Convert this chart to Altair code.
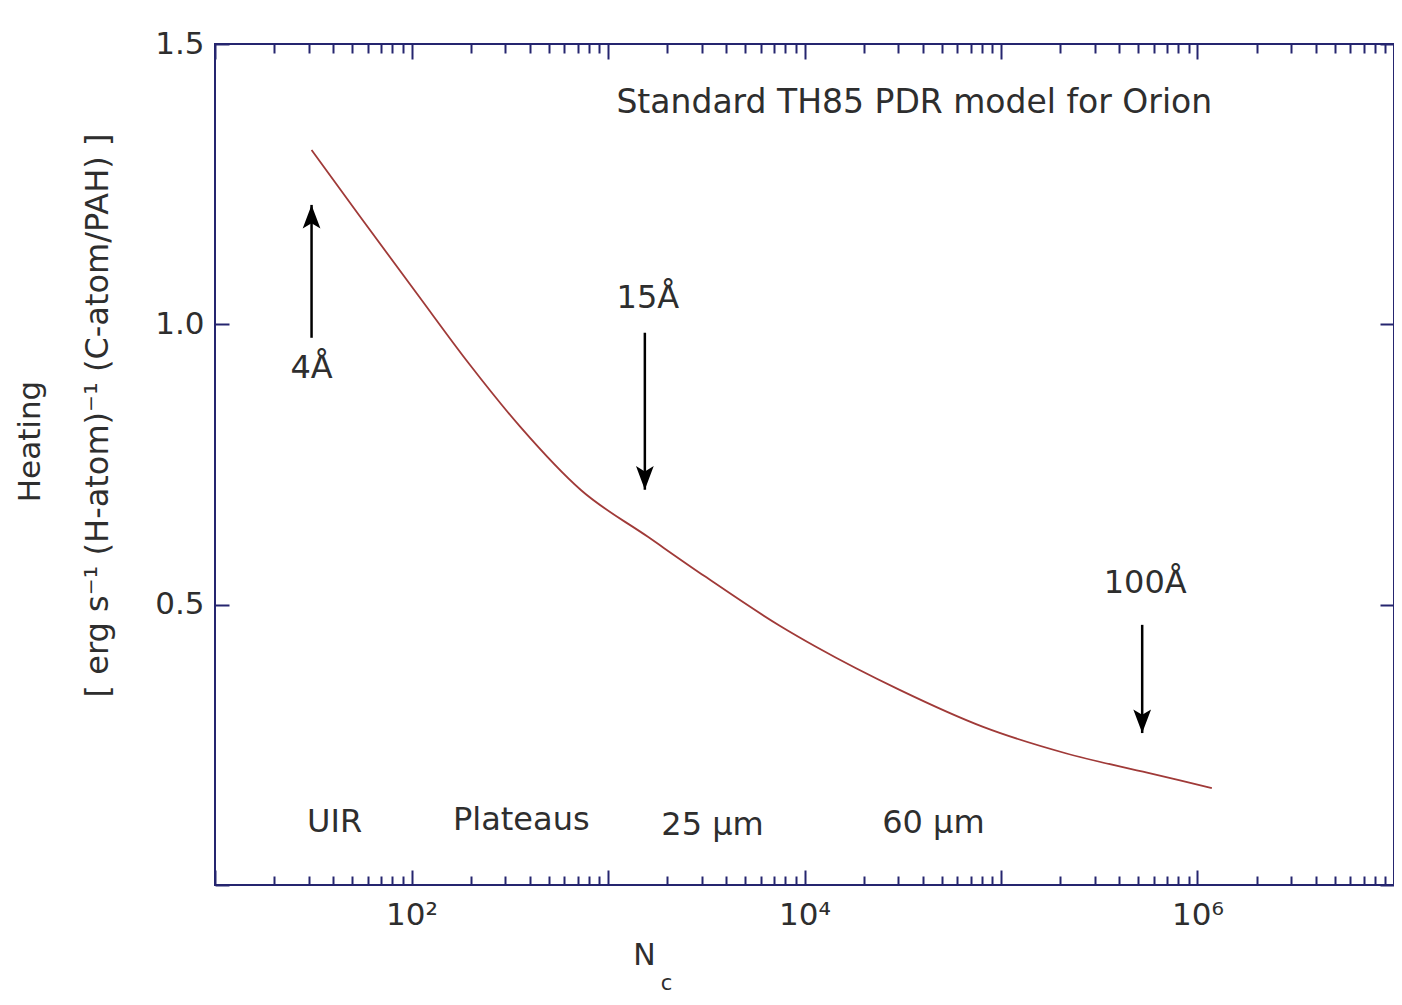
import altair as alt
import pandas as pd

# ---- data ----
N_c = [31, 54, 109, 195, 358, 730, 1596, 3097, 7516, 11560, 30480, 81100, 213300, 561000, 1183000]
heating = [1.311, 1.195, 1.050, 0.931, 0.817, 0.704, 0.621, 0.551, 0.462, 0.424, 0.348, 0.282, 0.235, 0.200, 0.173]

arrow_N = [31, 1540, 523000]
arrow_tail = [0.976, 0.985, 0.464]
arrow_tip = [1.213, 0.705, 0.271]
arrow_dir = ["up", "down", "down"]

arrow_labels = ["4Å", "15Å", "100Å"]
arrow_label_N = [31, 1596, 542000]
arrow_label_y = [0.922, 1.047, 0.539]

band_labels = ["UIR", "Plateaus", "25 μm", "60 μm"]
band_N = [40.6, 362, 3404, 45300]
band_y = [0.112, 0.116, 0.107, 0.111]

title_text = ["Standard TH85 PDR model for Orion"]
title_N = [36200]
title_y = [1.395]

x_label_values = [100, 10000, 1000000]
x_tick_values = [m * 10 ** e for e in range(1, 7) for m in range(1, 10)] + [10 ** 7]
y_label_values = [0.5, 1.0, 1.5]
y_tick_values = [0, 0.5, 1.0, 1.5]

# ---- layout / style ----
W, H = 1179, 841
FONT = "DejaVu Sans"
TXT = "#2e2e2e"
NAVY = "#25256f"
CURVE = "#a03a38"

curve = pd.DataFrame({"N": N_c, "heat": heating})
arrows = pd.DataFrame({"N": arrow_N, "tail": arrow_tail, "tip": arrow_tip, "dir": arrow_dir})
alabels = pd.DataFrame({"N": arrow_label_N, "y": arrow_label_y, "t": arrow_labels})
bands = pd.DataFrame({"N": band_N, "y": band_y, "t": band_labels})
ttl = pd.DataFrame({"N": title_N, "y": title_y, "t": title_text})

xs = alt.Scale(type="log", domain=[10, 10 ** 7], nice=False)
ys = alt.Scale(domain=[0, 1.5], nice=False, zero=False)

major_test = "abs(log(datum.value)/LN10 - round(log(datum.value)/LN10)) < 0.001"
x_tick_size = {"condition": {"test": major_test, "value": 15}, "value": 9}

# main line with labelled axes
x_main = alt.Axis(orient="bottom", values=x_label_values,
                  labelExpr="datum.value == 100 ? '10²' : (datum.value == 10000 ? '10⁴' : '10⁶')",
                  ticks=False, domain=False, grid=False, labelFlush=False, labelOverlap=False,
                  labelFont=FONT, labelFontSize=31, labelColor=TXT, labelPadding=15,
                  title="N", titleFont=FONT, titleFontSize=30, titleFontWeight="normal",
                  titleColor=TXT, titleX=429, titleY=70, titleAlign="center", titleBaseline="middle")
y_main = alt.Axis(orient="left", values=y_label_values, format=".1f",
                  ticks=False, domain=False, grid=False, labelFlush=False, labelOverlap=False,
                  labelFont=FONT, labelFontSize=31, labelColor=TXT, labelPadding=11,
                  title="[ erg s⁻¹ (H-atom)⁻¹ (C-atom/PAH) ]", titleFont=FONT, titleFontSize=32,
                  titleFontWeight="normal", titleColor=TXT, titleX=-118, titleY=371,
                  titleAngle=270, titleAlign="center", titleBaseline="middle")

line = alt.Chart(curve).mark_line(color=CURVE, strokeWidth=1.8, interpolate="monotone").encode(
    x=alt.X("N:Q", scale=xs, axis=x_main),
    y=alt.Y("heat:Q", scale=ys, axis=y_main),
)

# inward ticks: bottom edge & left edge
x_in_bottom = alt.Axis(orient="top", offset=-H, values=x_tick_values, labels=False, domain=False,
                       grid=False, ticks=True, tickSize=x_tick_size, tickColor=NAVY, tickWidth=2, title="")
y_in_left = alt.Axis(orient="right", offset=-W, values=y_tick_values, labels=False, domain=False,
                     grid=False, ticks=True, tickSize=14, tickColor=NAVY, tickWidth=2, title="")
ticks1 = alt.Chart(curve).mark_line(strokeOpacity=0).encode(
    x=alt.X("N:Q", scale=xs, axis=x_in_bottom),
    y=alt.Y("heat:Q", scale=ys, axis=y_in_left),
)

# inward ticks: top edge & right edge
x_in_top = alt.Axis(orient="bottom", offset=-H, values=x_tick_values, labels=False, domain=False,
                    grid=False, ticks=True, tickSize=x_tick_size, tickColor=NAVY, tickWidth=2, title="")
y_in_right = alt.Axis(orient="left", offset=-W, values=y_tick_values, labels=False, domain=False,
                      grid=False, ticks=True, tickSize=14, tickColor=NAVY, tickWidth=2, title="")
ticks2 = alt.Chart(curve).mark_line(strokeOpacity=0).encode(
    x=alt.X("N:Q", scale=xs, axis=x_in_top),
    y=alt.Y("heat:Q", scale=ys, axis=y_in_right),
)

# extra titles: subscript "c" and "Heating"
x_sub = alt.Axis(orient="bottom", labels=False, ticks=False, domain=False, grid=False,
                 title="c", titleFont=FONT, titleFontSize=21, titleFontWeight="normal",
                 titleColor=TXT, titleX=451, titleY=98, titleAlign="center", titleBaseline="middle")
y_heat = alt.Axis(orient="left", labels=False, ticks=False, domain=False, grid=False,
                  title="Heating", titleFont=FONT, titleFontSize=31, titleFontWeight="normal",
                  titleColor=TXT, titleX=-185, titleY=397, titleAngle=270,
                  titleAlign="center", titleBaseline="middle")
titles = alt.Chart(curve).mark_line(strokeOpacity=0).encode(
    x=alt.X("N:Q", scale=xs, axis=x_sub),
    y=alt.Y("heat:Q", scale=ys, axis=y_heat),
)

# arrows
shafts = alt.Chart(arrows).mark_rule(color="black", strokeWidth=2.5).encode(
    x=alt.X("N:Q", scale=xs, axis=None),
    y=alt.Y("tail:Q", scale=ys, axis=None),
    y2="tip:Q",
)
head_up = "M0,0L-0.75,2L0,1.55L0.75,2Z"
head_down = "M0,0L-0.75,-2L0,-1.55L0.75,-2Z"
heads = alt.Chart(arrows).mark_point(filled=True, color="black", opacity=1, size=560).encode(
    x=alt.X("N:Q", scale=xs, axis=None),
    y=alt.Y("tip:Q", scale=ys, axis=None),
    shape=alt.Shape("dir:N", scale=alt.Scale(domain=["up", "down"], range=[head_up, head_down]), legend=None),
)

def text_layer(df, size):
    return alt.Chart(df).mark_text(font=FONT, fontSize=size, color=TXT, align="center", baseline="middle").encode(
        x=alt.X("N:Q", scale=xs, axis=None),
        y=alt.Y("y:Q", scale=ys, axis=None),
        text="t:N",
    )

chart = alt.layer(
    line, ticks1, ticks2, titles, shafts, heads,
    text_layer(alabels, 32), text_layer(bands, 32), text_layer(ttl, 33),
).resolve_axis(x="independent", y="independent").properties(
    width=W, height=H,
    autosize=alt.AutoSizeParams(type="none"),
    padding={"left": 207, "top": 36, "right": 0, "bottom": 110},
    background="white",
).configure_view(stroke=NAVY, strokeWidth=2)

chart.save("out.html", embed_options={"renderer": "svg", "actions": False})
